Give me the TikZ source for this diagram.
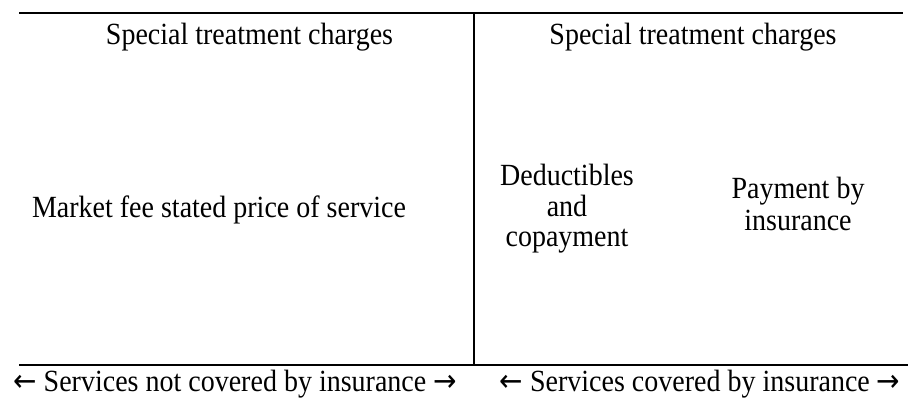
\documentclass[tikz,border=0pt]{standalone}
\usepackage{fontspec}
\setmainfont{Liberation Serif}
\newfontfamily\arrfont{DejaVu Sans}
\newcommand{\stretchtxt}[1]{\scalebox{1}[1.1]{#1}}
\newcommand{\larr}{{\arrfont ←}}
\newcommand{\rarr}{{\arrfont →}}
\begin{document}
\begin{tikzpicture}[x=1pt,y=-1pt,
  lbl/.style={inner sep=0pt, font=\fontsize{28}{31}\selectfont, anchor=base},
  thinrule/.style={line width=1.2pt},
  thickrule/.style={line width=2pt}]
\useasboundingbox (0,0) rectangle (911,400);
\coordinate (tl) at (19,13);
\coordinate (tr) at (903,13);
\coordinate (vt) at (474,13);
\coordinate (vb) at (474,365);
\coordinate (bl) at (19,365);
\coordinate (br) at (908,365);
\draw[thinrule] (tl) -- (tr);
\draw[thickrule] (vt) -- (vb);
\draw[thickrule] (bl) -- (br);
\node[lbl] (h1) at (249.5,44) {\stretchtxt{Special treatment charges}};
\node[lbl] (h2) at (693,44) {\stretchtxt{Special treatment charges}};
\node[lbl] (mk) at (219,217) {\stretchtxt{Market fee stated price of service}};
\node[lbl] (d1) at (567,185) {\stretchtxt{Deductibles}};
\node[lbl] (d2) at (567,216) {\stretchtxt{and}};
\node[lbl] (d3) at (567,246) {\stretchtxt{copayment}};
\node[lbl] (p1) at (798,198) {\stretchtxt{Payment by}};
\node[lbl] (p2) at (798,230) {\stretchtxt{insurance}};
\node[lbl] (f1) at (235,391) {\stretchtxt{\larr\ Services not covered by insurance \rarr}};
\node[lbl] (f2) at (700,391) {\stretchtxt{\larr\ Services covered by insurance \rarr}};
\end{tikzpicture}
\end{document}
